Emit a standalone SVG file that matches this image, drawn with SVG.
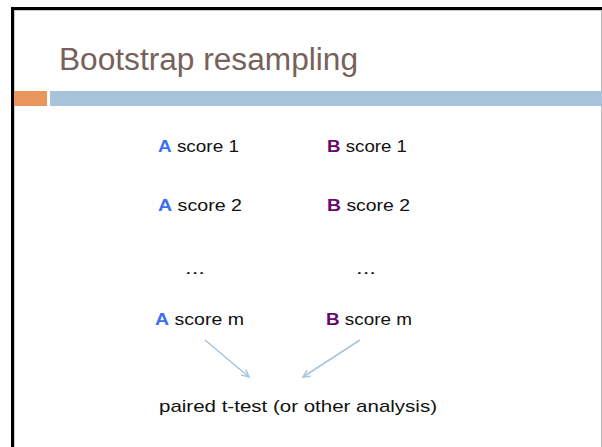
<svg xmlns="http://www.w3.org/2000/svg" width="602" height="447" viewBox="0 0 602 447">
  <style>
    .title { font-family: "Liberation Sans", Arial, sans-serif; font-size: 31px; fill: #76625B; }
    .item { font-family: "Liberation Sans", Arial, sans-serif; font-size: 17px; fill: #111111; }
    .a { fill: #3C6EF5; font-weight: bold; }
    .b { fill: #660A6E; font-weight: bold; }
    .conn { stroke: #A6C4DD; stroke-width: 1.5; fill: none; }
  </style>
  <defs>
    <marker id="arrow" viewBox="0 0 10 10" refX="9" refY="5" markerWidth="9" markerHeight="9" orient="auto" markerUnits="userSpaceOnUse">
      <path d="M1,1 L9,5 L1,9" fill="none" stroke="#A6C4DD" stroke-width="1.6"/>
    </marker>
  </defs>

  <!-- slide frame -->
  <rect x="0" y="0" width="602" height="447" fill="#ffffff"/>
  <line x1="14.5" y1="11" x2="14.5" y2="447" stroke="#c8c8c8" stroke-width="1"/>
  <line x1="14" y1="10.5" x2="602" y2="10.5" stroke="#c8c8c8" stroke-width="1"/>
  <line x1="601.5" y1="10" x2="601.5" y2="447" stroke="#b8b8b8" stroke-width="1"/>
  <rect x="11" y="7" width="591" height="3" fill="#000000"/>
  <rect x="11" y="7" width="3" height="440" fill="#000000"/>

  <!-- title -->
  <g id="title">
    <text class="title" x="59" y="70" textLength="299" lengthAdjust="spacingAndGlyphs">Bootstrap resampling</text>
  </g>

  <!-- header bars -->
  <rect x="14" y="91" width="33" height="15" fill="#E8965B"/>
  <rect x="50" y="91" width="552" height="15" fill="#A6C3DB"/>

  <g id="a1"><text class="item" x="158" y="152" textLength="81" lengthAdjust="spacingAndGlyphs"><tspan class="a">A</tspan> score 1</text></g>
  <g id="b1"><text class="item" x="327" y="152" textLength="80" lengthAdjust="spacingAndGlyphs"><tspan class="b">B</tspan> score 1</text></g>
  <g id="a2"><text class="item" x="158" y="211" textLength="84" lengthAdjust="spacingAndGlyphs"><tspan class="a">A</tspan> score 2</text></g>
  <g id="b2"><text class="item" x="327" y="211" textLength="83" lengthAdjust="spacingAndGlyphs"><tspan class="b">B</tspan> score 2</text></g>
  <g id="dotsA"><text class="item" x="185" y="274" textLength="20" lengthAdjust="spacingAndGlyphs">...</text></g>
  <g id="dotsB"><text class="item" x="356" y="274" textLength="20" lengthAdjust="spacingAndGlyphs">...</text></g>
  <g id="am"><text class="item" x="155" y="325" textLength="89" lengthAdjust="spacingAndGlyphs"><tspan class="a">A</tspan> score m</text></g>
  <g id="bm"><text class="item" x="326" y="325" textLength="86" lengthAdjust="spacingAndGlyphs"><tspan class="b">B</tspan> score m</text></g>
  <g id="ttest"><text class="item" x="159" y="412" textLength="278" lengthAdjust="spacingAndGlyphs">paired t-test (or other analysis)</text></g>

  <g id="connectors">
    <line class="conn" x1="205" y1="340" x2="249" y2="377" marker-end="url(#arrow)"/>
    <line class="conn" x1="360" y1="340" x2="303" y2="377" marker-end="url(#arrow)"/>
  </g>
</svg>
